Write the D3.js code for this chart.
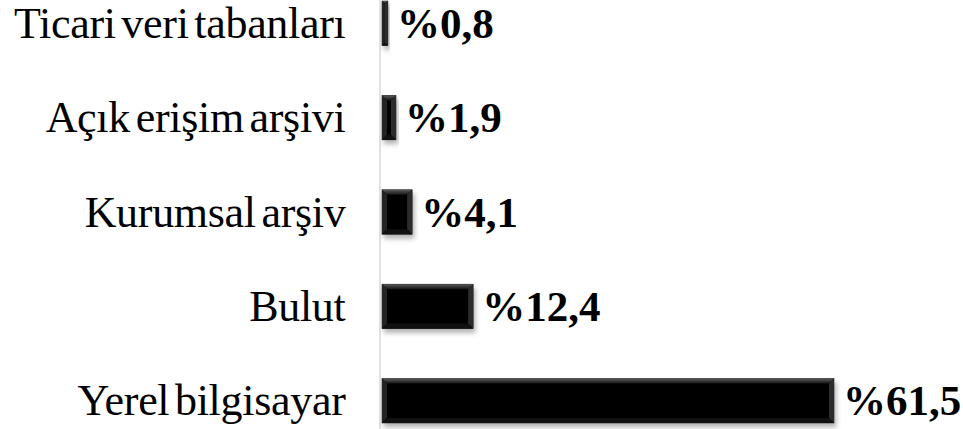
<!DOCTYPE html>
<html>
<head>
<meta charset="utf-8">
<script src="https://cdn.jsdelivr.net/npm/d3@7"></script>
<style>
  body { margin: 0; background: #fff; }
  .cat text { font-family: "Liberation Serif", "DejaVu Serif", serif; font-size: 44px; letter-spacing: -0.3px; word-spacing: -5px; fill: #000; }
  .val { font-family: "Liberation Serif", "DejaVu Serif", serif; font-size: 43px; font-weight: bold; fill: #000; }
</style>
</head>
<body>
<svg></svg>
<script>
// values (percent)
var categories = ["Ticari veri tabanları", "Açık erişim arşivi", "Kurumsal arşiv", "Bulut", "Yerel bilgisayar"];
var values = [0.8, 1.9, 4.1, 12.4, 61.5];
var labels = ["%0,8", "%1,9", "%4,1", "%12,4", "%61,5"];

(function() {
  var width = 963, height = 429;

  var svg = d3.select("svg")
    .attr("width", width)
    .attr("height", height);

  var x = d3.scaleLinear()
    .domain([0, 61.5])
    .range([382, 834]);

  var y = d3.scaleBand()
    .domain(categories)
    .range([-24, 448])
    .paddingInner(0.53)
    .paddingOuter(0.265);

  var defs = svg.append("defs");
  var f = defs.append("filter").attr("id", "shadow")
    .attr("x", "-20%").attr("y", "-30%").attr("width", "140%").attr("height", "170%");
  f.append("feDropShadow")
    .attr("dx", 2).attr("dy", 4).attr("stdDeviation", 2.5)
    .attr("flood-color", "#000").attr("flood-opacity", 0.3);

  var gTop = defs.append("linearGradient").attr("id", "bevTop")
    .attr("x1", 0).attr("y1", 0).attr("x2", 0).attr("y2", 1);
  gTop.append("stop").attr("offset", "0%").attr("stop-color", "#5a5a5a");
  gTop.append("stop").attr("offset", "100%").attr("stop-color", "#141414");

  // category axis
  var yAxis = d3.axisLeft(y).tickSize(0).tickPadding(34);
  svg.append("g")
    .attr("class", "cat")
    .attr("transform", "translate(379.5,0)")
    .call(yAxis)
    .call(function(g) {
      g.select(".domain").attr("stroke", "#d9d9d9").attr("stroke-width", 1.5);
      g.selectAll("text").attr("dy", "0.33em");
    });

  var data = categories.map(function(c, i) {
    return { cat: c, val: values[i], lab: labels[i] };
  });

  var bars = svg.selectAll("g.bar")
    .data(data)
    .enter()
    .append("g")
    .attr("class", "bar")
    .attr("transform", function(d) { return "translate(" + x(0) + "," + y(d.cat) + ")"; });

  var h = y.bandwidth();

  bars.append("rect")
    .attr("width", function(d) { return x(d.val) - x(0); })
    .attr("height", h)
    .attr("fill", "#050505")
    .attr("stroke", "#1a1a1a")
    .attr("stroke-width", 0.6)
    .attr("filter", "url(#shadow)");

  // bevel faces
  function bevel(d) {
    var w = x(d.val) - x(0);
    var b = Math.min(5, w / 2, h / 2);
    return { w: w, b: b };
  }
  bars.append("path")
    .attr("fill", "url(#bevTop)")
    .attr("d", function(d) {
      var o = bevel(d);
      return "M0,0H" + o.w + "L" + (o.w - o.b) + "," + o.b + "H" + o.b + "Z";
    });
  bars.append("path")
    .attr("fill", "#232323")
    .attr("d", function(d) {
      var o = bevel(d);
      return "M0,0L" + o.b + "," + o.b + "V" + (h - o.b) + "L0," + h + "Z";
    });
  bars.append("path")
    .attr("fill", "#2c2c2c")
    .attr("d", function(d) {
      var o = bevel(d);
      return "M" + o.w + ",0V" + h + "L" + (o.w - o.b) + "," + (h - o.b) + "V" + o.b + "Z";
    });
  bars.append("path")
    .attr("fill", "#111")
    .attr("d", function(d) {
      var o = bevel(d);
      return "M0," + h + "H" + o.w + "L" + (o.w - o.b) + "," + (h - o.b) + "H" + o.b + "Z";
    });

  svg.selectAll("text.val")
    .data(data)
    .enter()
    .append("text")
    .attr("class", "val")
    .attr("x", function(d) { return x(d.val) + 9; })
    .attr("y", function(d) { return y(d.cat) + h / 2; })
    .attr("dy", "0.34em")
    .text(function(d) { return d.lab; });
})();
</script>
</body>
</html>
